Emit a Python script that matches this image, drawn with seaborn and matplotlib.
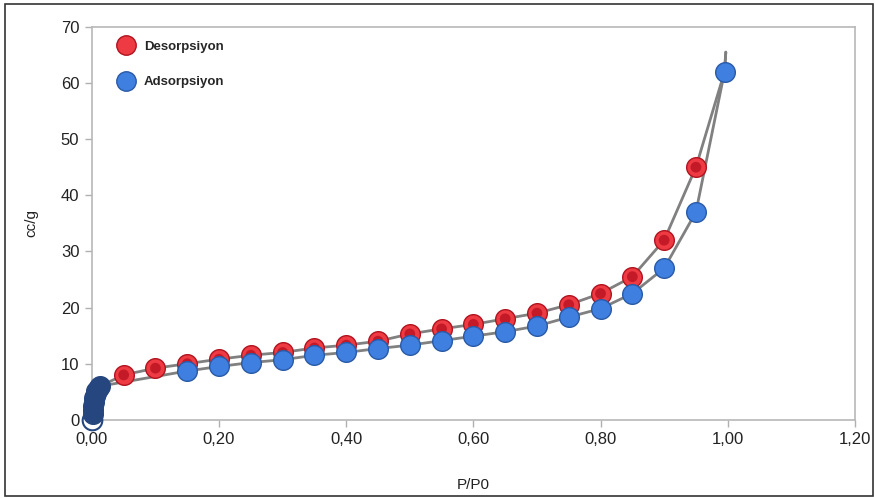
import numpy as np
import pandas as pd
import matplotlib
matplotlib.use('Agg')
import matplotlib.pyplot as plt
from matplotlib.lines import Line2D
import seaborn as sns

# %%
# desorption branch
des_x = [0.05, 0.10, 0.15, 0.20, 0.25, 0.30, 0.35, 0.40, 0.45, 0.50,
         0.55, 0.60, 0.65, 0.70, 0.75, 0.80, 0.85, 0.90, 0.95]
des_y = [8.0, 9.2, 10.0, 10.8, 11.5, 12.0, 12.8, 13.3, 14.0, 15.3,
         16.2, 17.0, 18.0, 19.0, 20.5, 22.5, 25.5, 32.0, 45.0]

# adsorption branch
ads_x = [0.15, 0.20, 0.25, 0.30, 0.35, 0.40, 0.45, 0.50, 0.55, 0.60,
         0.65, 0.70, 0.75, 0.80, 0.85, 0.90, 0.95, 0.995]
ads_y = [8.7, 9.5, 10.2, 10.7, 11.5, 12.0, 12.7, 13.3, 14.1, 14.9,
         15.7, 16.7, 18.3, 19.8, 22.5, 27.0, 37.0, 62.0]

# low pressure region
low_x = [0.001, 0.0015, 0.002, 0.003, 0.004, 0.005, 0.006, 0.007, 0.009, 0.011, 0.013]
low_y = [1.0, 1.8, 2.5, 3.2, 3.8, 4.3, 4.8, 5.1, 5.5, 5.8, 6.0]
zero_x = [0.0008]
zero_y = [0.0]

# %%
des_line = pd.DataFrame({'x': [low_x[-1]] + des_x + [ads_x[-1], 0.997],
                         'y': [low_y[-1]] + des_y + [ads_y[-1], 65.5]})
ads_line = pd.DataFrame({'x': [low_x[-1]] + ads_x + [0.997],
                         'y': [low_y[-1]] + ads_y + [65.5]})
des_df = pd.DataFrame({'x': des_x, 'y': des_y})
ads_df = pd.DataFrame({'x': ads_x, 'y': ads_y})
low_df = pd.DataFrame({'x': low_x, 'y': low_y})

sns.set_style('white')
plt.rcParams['font.family'] = ['Liberation Sans', 'DejaVu Sans']

fig = plt.figure(figsize=(8.75, 4.98), dpi=100)
ax = fig.add_axes([0.105, 0.157, 0.872, 0.789])

gray = '#808080'
sns.lineplot(x='x', y='y', data=des_line, ax=ax, color=gray, lw=2.0, sort=False, zorder=2)
sns.lineplot(x='x', y='y', data=ads_line, ax=ax, color=gray, lw=2.0, sort=False, zorder=2)

ms = 200
sns.scatterplot(x='x', y='y', data=des_df, ax=ax, s=ms, color='#ee3a42',
                edgecolor='#b0141f', linewidth=1.0, zorder=3)
sns.scatterplot(x='x', y='y', data=des_df, ax=ax, s=60, color='#c41a28',
                edgecolor='none', zorder=3)
sns.scatterplot(x='x', y='y', data=ads_df, ax=ax, s=ms, color='#3e7fe0',
                edgecolor='#2a5aa6', linewidth=1.0, zorder=4)
sns.scatterplot(x='x', y='y', data=low_df, ax=ax, s=ms, color='#26467f',
                edgecolor='#26467f', linewidth=1.0, zorder=5, clip_on=False)
ax.scatter(zero_x, zero_y, s=ms, facecolor='white', edgecolor='#26467f',
           linewidth=1.5, zorder=4.5, clip_on=False)

ax.set_xlim(0, 1.2)
ax.set_ylim(0, 70)
ax.set_xticks(np.arange(0, 1.21, 0.2))
ax.set_xticklabels(['0,00', '0,20', '0,40', '0,60', '0,80', '1,00', '1,20'])
ax.set_yticks(range(0, 71, 10))
ax.tick_params(axis='both', length=5, width=1, color='#b0b0b0', labelsize=12,
               labelcolor='#222222', direction='out', pad=4, bottom=True, left=True)
for sp in ax.spines.values():
    sp.set_color('#b8b8b8')
    sp.set_linewidth(1.2)

ax.set_xlabel('P/P0', fontsize=11, color='#222222', labelpad=22)
ax.set_ylabel('cc/g', fontsize=11, color='#222222', labelpad=16)

handles = [
    Line2D([], [], marker='o', ls='none', markersize=14, markerfacecolor='#ee3a42',
           markeredgecolor='#b0141f', label='Desorpsiyon'),
    Line2D([], [], marker='o', ls='none', markersize=14, markerfacecolor='#3e7fe0',
           markeredgecolor='#2a5aa6', label='Adsorpsiyon'),
]
leg = ax.legend(handles=handles, loc='upper left', bbox_to_anchor=(0.012, 0.995),
                frameon=False, labelspacing=1.75, handletextpad=0.35,
                prop={'weight': 'bold', 'size': 9.5})

# outer border of the figure
fig.patches.append(plt.Rectangle((0.006, 0.004), 0.992, 0.988, transform=fig.transFigure,
                                 fill=False, edgecolor='#333333', lw=1.2))

fig.savefig('out.png', dpi=100)
